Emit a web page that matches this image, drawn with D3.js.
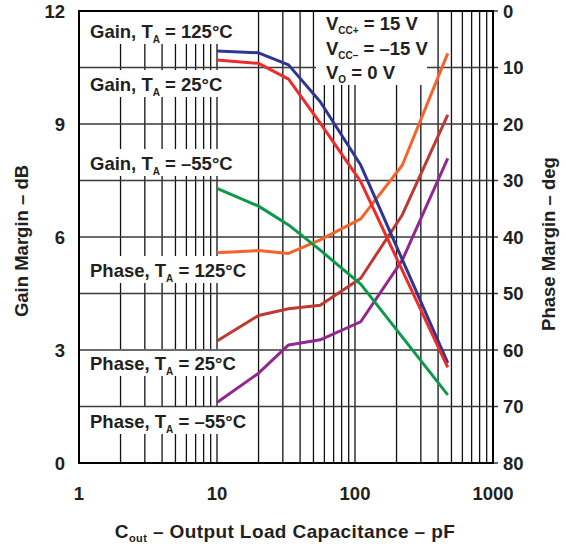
<!DOCTYPE html>
<html>
<head>
<meta charset="utf-8">
<script src="https://cdn.jsdelivr.net/npm/d3@7"></script>
<style>
  body { margin: 0; background: #fff; }
  svg { display: block; font-family: "Liberation Sans", Arial, sans-serif; font-weight: bold; }
</style>
</head>
<body>
<svg id="chart" width="566" height="546"></svg>
<script>
// capacitance points (pF) where the curves were read
const gainX  = [10, 20, 33, 56, 110, 470];
const phaseX = [10, 20, 33, 56, 110, 220, 470];

// gain margin (dB)
const gain125 = [10.94, 10.89, 10.57, 9.59, 7.91, 2.66];
const gain25  = [10.70, 10.61, 10.19, 9.02, 7.47, 2.54];
const gainM55 = [7.29, 6.82, 6.32, 5.65, 4.75, 1.81];

// phase margin (deg)
const phase125 = [42.8, 42.4, 42.9, 40.5, 36.8, 27.3, 7.5];
const phase25  = [58.4, 53.9, 52.7, 52.1, 47.3, 36.1, 18.4];
const phaseM55 = [69.3, 64.1, 59.1, 58.2, 55.0, 44.1, 26.1];

// tick labels
const xTicks = [1, 10, 100, 1000];
const gainTicks = [0, 3, 6, 9, 12];
const phaseTicks = [0, 10, 20, 30, 40, 50, 60, 70, 80];

// curve labels: text before subscript, subscript, text after
const curveLabels = [
  ["Gain, T", "A", " = 125°C"],
  ["Gain, T", "A", " = 25°C"],
  ["Gain, T", "A", " = –55°C"],
  ["Phase, T", "A", " = 125°C"],
  ["Phase, T", "A", " = 25°C"],
  ["Phase, T", "A", " = –55°C"]
];
const labelY = [31, 84, 163, 270, 363, 421];   // vertical centres of the labels

const conditions = [["V", "CC+", " = 15 V"], ["V", "CC–", " = –15 V"], ["V", "O", " = 0 V"]];

// plot area
const pLeft = 79, pRight = 493, pTop = 11, pBottom = 463;
const ink = "#231f20";
const fs = 18.5;

const svg = d3.select("#chart");

const x = d3.scaleLog().domain([1, 1000]).range([pLeft, pRight]);
const yGain = d3.scaleLinear().domain([0, 12]).range([pBottom, pTop]);
const yPhase = d3.scaleLinear().domain([0, 80]).range([pTop, pBottom]);

// layers
const gVGrid = svg.append("g");
const gBoxes = svg.append("g");
const gHGrid = svg.append("g");
const gCondBox = svg.append("g");
const gFrame = svg.append("g");
const gCurves = svg.append("g");
const gLab = svg.append("g").attr("font-size", fs).attr("fill", ink);
const gCond = svg.append("g").attr("font-size", fs).attr("fill", ink);
const gAxes = svg.append("g").attr("font-size", fs).attr("fill", ink);

// vertical grid (decades + minor)
gVGrid.selectAll("line").data(x.ticks()).join("line")
    .attr("x1", d => x(d)).attr("x2", d => x(d))
    .attr("y1", pTop).attr("y2", pBottom)
    .attr("stroke", "#111").attr("stroke-width", 1.3);

// curve labels
const labTexts = gLab.selectAll("text").data(curveLabels).join("text")
    .attr("x", 90)
    .attr("y", (d, i) => labelY[i] + 6.5);
labTexts.each(function(d) {
  const t = d3.select(this);
  t.append("tspan").text(d[0]);
  t.append("tspan").attr("font-size", 10).attr("dy", 5).text(d[1]);
  t.append("tspan").attr("dy", -5).text(d[2]);
});

// white boxes behind the labels (they hide the vertical grid)
const boxes = [];
labTexts.each(function(d, i) {
  const w = this.getComputedTextLength();
  const y0 = i == 0 ? pTop : labelY[i] - 14;
  boxes.push({x: 84, y: y0, w: w + 10, h: labelY[i] + 13 - y0});
});
gBoxes.selectAll("rect").data(boxes).join("rect")
    .attr("x", d => d.x).attr("y", d => d.y)
    .attr("width", d => d.w).attr("height", d => d.h)
    .attr("fill", "#fff");

// horizontal grid (every 1.5 dB = 10 deg)
gHGrid.selectAll("line").data(phaseTicks).join("line")
    .attr("x1", pLeft).attr("x2", pRight + 5)
    .attr("y1", d => yPhase(d)).attr("y2", d => yPhase(d))
    .attr("stroke", "#3a3a3a").attr("stroke-width", 1.5);

// condition box
gCondBox.append("rect")
  .attr("x", 316).attr("y", pTop).attr("width", 111).attr("height", 74)
  .attr("fill", "#fff");

// frame
gFrame.append("rect")
  .attr("x", pLeft).attr("y", pTop)
  .attr("width", pRight - pLeft).attr("height", pBottom - pTop)
  .attr("fill", "none").attr("stroke", "#000").attr("stroke-width", 2);

// curves
const gainLine = d3.line().x(d => x(d[0])).y(d => yGain(d[1]));
const phaseLine = d3.line().x(d => x(d[0])).y(d => yPhase(d[1]));

const curves = [
  {xs: phaseX, ys: phaseM55, color: "#93278f", line: phaseLine},
  {xs: phaseX, ys: phase25,  color: "#be3a31", line: phaseLine},
  {xs: phaseX, ys: phase125, color: "#f4632a", line: phaseLine},
  {xs: gainX,  ys: gainM55,  color: "#0c9a4a", line: gainLine},
  {xs: gainX,  ys: gain125,  color: "#2e3592", line: gainLine},
  {xs: gainX,  ys: gain25,   color: "#ee2b2a", line: gainLine}
];
gCurves.attr("fill", "none").attr("stroke-width", 3).attr("stroke-linejoin", "round")
  .selectAll("path").data(curves).join("path")
    .attr("stroke", d => d.color)
    .attr("d", d => d.line(d.xs.map((v, i) => [v, d.ys[i]])));

// conditions text
gCond.selectAll("text").data(conditions).join("text")
    .attr("x", 326)
    .attr("y", (d, i) => [30, 54.5, 78.5][i])
    .each(function(d) {
      const t = d3.select(this);
      t.append("tspan").text(d[0]);
      t.append("tspan").attr("font-size", 10).attr("dy", 4).text(d[1]);
      t.append("tspan").attr("dy", -4).text(d[2]);
    });

// tick labels
gAxes.append("g").attr("text-anchor", "end")
  .selectAll("text").data(gainTicks).join("text")
    .attr("x", 65).attr("y", d => yGain(d) + 6.5)
    .text(d => d);

gAxes.append("g")
  .selectAll("text").data(phaseTicks).join("text")
    .attr("x", 503).attr("y", d => yPhase(d) + 6.5)
    .text(d => d);

gAxes.append("g").attr("text-anchor", "middle")
  .selectAll("text").data(xTicks).join("text")
    .attr("x", d => x(d)).attr("y", 499.5)
    .text(d => d);

// axis titles
gAxes.append("text")
  .attr("transform", "translate(28,241) rotate(-90)")
  .attr("text-anchor", "middle")
  .text("Gain Margin – dB");

gAxes.append("text")
  .attr("transform", "translate(555,244) rotate(-90)")
  .attr("text-anchor", "middle")
  .text("Phase Margin – deg");

const xTitle = gAxes.append("text")
  .attr("x", 285).attr("y", 538)
  .attr("text-anchor", "middle")
  .attr("font-size", 19).attr("letter-spacing", 0.4);
xTitle.append("tspan").text("C");
xTitle.append("tspan").attr("font-size", 11).attr("dy", 4).text("out");
xTitle.append("tspan").attr("dy", -4).text(" – Output Load Capacitance – pF");
</script>
</body>
</html>
